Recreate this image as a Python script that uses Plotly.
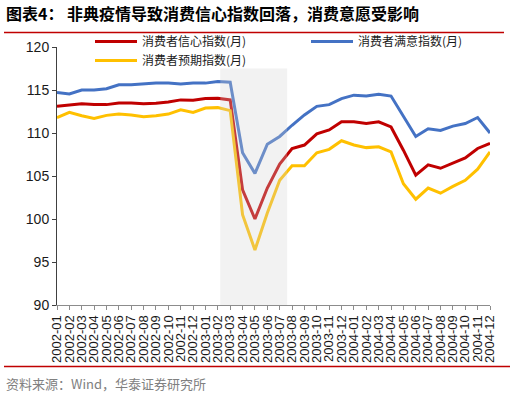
import plotly.graph_objects as go

months = [f"{y}-{m:02d}" for y in (2002, 2003, 2004) for m in range(1, 13)]

confidence = [113.1, 113.25, 113.4, 113.3, 113.3, 113.5, 113.5, 113.4, 113.45, 113.6, 113.85, 113.8,
              114.0, 114.05, 113.85, 103.4, 100.0, 103.6, 106.4, 108.2, 108.6, 109.9, 110.35, 111.3,
              111.3, 111.1, 111.3, 110.7, 108.0, 105.1, 106.3, 105.9, 106.5, 107.1, 108.2, 108.8]
satisfaction = [114.7, 114.55, 115.0, 115.0, 115.15, 115.6, 115.6, 115.7, 115.8, 115.8, 115.7, 115.8,
                115.8, 116.0, 115.9, 107.7, 105.3, 108.7, 109.6, 110.9, 112.1, 113.1, 113.3, 114.0,
                114.4, 114.3, 114.5, 114.3, 111.9, 109.6, 110.5, 110.3, 110.8, 111.1, 111.8, 110.0]
expectation = [111.8, 112.4, 112.0, 111.7, 112.05, 112.2, 112.1, 111.9, 112.0, 112.2, 112.7, 112.4,
               112.9, 112.95, 112.6, 100.5, 96.4, 100.7, 104.5, 106.2, 106.2, 107.7, 108.1, 109.1,
               108.6, 108.3, 108.4, 107.8, 104.1, 102.3, 103.6, 103.0, 103.8, 104.5, 105.8, 107.8]

names = ["消费者信心指数(月)", "消费者满意指数(月)", "消费者预期指数(月)"]
colors = ["#C00000", "#4472C4", "#FFC000"]
series = [confidence, satisfaction, expectation]
legend_ids = ["legend", "legend2", "legend"]

title_text = "<b>图表4： 非典疫情导致消费信心指数回落，消费意愿受影响</b>"
source_text = "资料来源：Wind，华泰证券研究所"

FONT = "Liberation Sans, Arial, Noto Sans CJK SC, sans-serif"
CJK = "Noto Sans CJK SC, Liberation Sans, sans-serif"

fig = go.Figure()
for n, c, s, lg in zip(names, colors, series, legend_ids):
    fig.add_trace(go.Scatter(x=months, y=s, name=n, mode="lines", legend=lg,
                             line=dict(color=c, width=3)))

W, H = 516, 399
L, R, T, B = 57, 26, 47, 94
pw, ph = W - L - R, H - T - B

def px(x):
    return (x - L) / pw

def py(y):
    return 1 - (y - T) / ph

leg_common = dict(xanchor="left", yanchor="top", font=dict(size=12, family=CJK, color="#1a1a1a"),
                  bgcolor="rgba(0,0,0,0)", traceorder="normal", itemwidth=42, tracegroupgap=0)

fig.update_layout(
    width=W, height=H,
    margin=dict(l=L, r=R, t=T, b=B),
    paper_bgcolor="white", plot_bgcolor="white",
    font=dict(family=FONT, color="#1a1a1a"),
    showlegend=True,
    legend=dict(x=px(90), y=py(27), **leg_common),
    legend2=dict(x=px(306), y=py(27), **leg_common),
    xaxis=dict(type="category", range=[0, 35], tickmode="array", tickvals=months, ticktext=months,
               showline=True, linecolor="#8c8c8c", linewidth=1,
               ticks="outside", ticklen=4, tickcolor="#8c8c8c", tickangle=-90,
               tickfont=dict(size=13, family=FONT, color="#1a1a1a"), showgrid=False, zeroline=False,
               automargin=False),
    yaxis=dict(range=[90, 120], dtick=5, showline=True, linecolor="#404040", linewidth=1,
               ticks="outside", ticklen=4, tickcolor="#404040",
               tickfont=dict(size=14, family=FONT, color="#1a1a1a"), showgrid=False, zeroline=False,
               automargin=False),
    shapes=[
        dict(type="rect", xref="x", yref="y", x0=13.2, x1=18.6, y0=90, y1=117.5,
             fillcolor="rgba(210,210,210,0.29)", line=dict(width=0), layer="above"),
        dict(type="line", xref="paper", yref="paper", x0=px(4), x1=px(504), y0=py(32.5), y1=py(32.5),
             line=dict(color="#C00000", width=1.5)),
        dict(type="line", xref="paper", yref="paper", x0=px(4), x1=px(510), y0=py(366.5), y1=py(366.5),
             line=dict(color="#C00000", width=1.5)),
    ],
    annotations=[
        dict(text=title_text, xref="paper", yref="paper", x=px(4), y=py(13), xanchor="left",
             yanchor="middle", showarrow=False,
             font=dict(size=16, family=CJK, color="#000000")),
        dict(text=source_text, xref="paper", yref="paper", x=px(4), y=py(383), xanchor="left",
             yanchor="middle", showarrow=False,
             font=dict(size=13, family=CJK, color="#808080")),
    ],
)

fig.write_html("out.html", config={"displayModeBar": False},
               post_script="document.body.style.margin='0';")
